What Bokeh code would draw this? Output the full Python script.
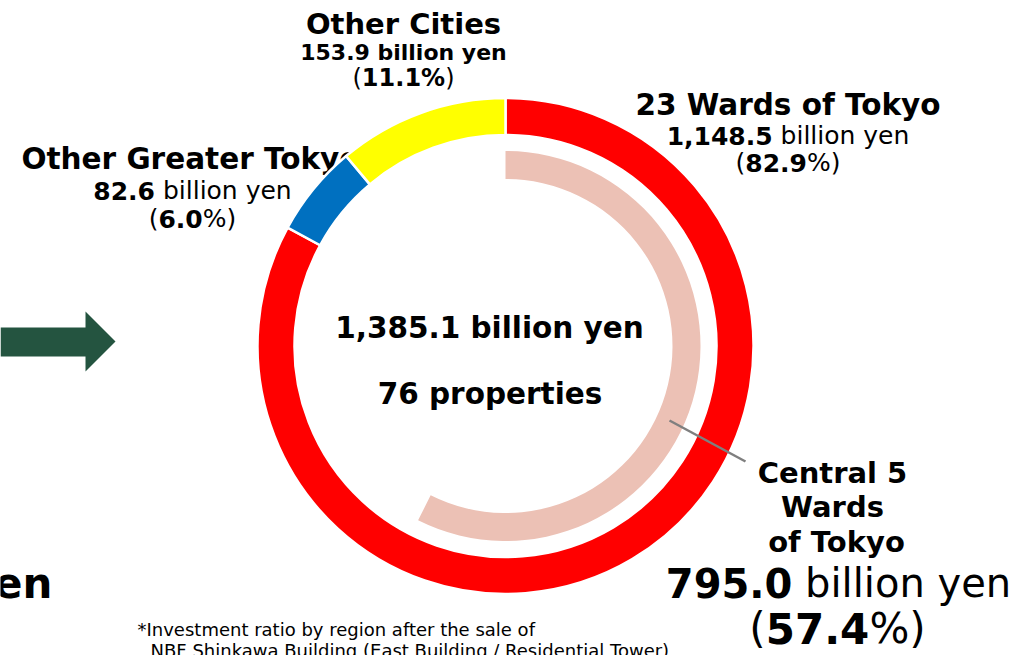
import math
from bokeh.plotting import figure
from bokeh.models import Range1d
from bokeh.core.properties import value
from bokeh.embed import file_html
from bokeh.resources import INLINE

# ---------------- data ----------------
regions = ["23 Wards of Tokyo", "Other Greater Tokyo", "Other Cities"]
amounts = [1148.5, 82.6, 153.9]          # billion yen
shares = [82.9, 6.0, 11.1]               # %
colors = ["#FF0000", "#0070C0", "#FFFF00"]
central5_amount = 795.0
central5_share = 57.4
total_amount = 1385.1
num_properties = 76

FONT = "DejaVu Sans"
W, H = 1021, 655

p = figure(width=W, height=H, output_backend="svg", toolbar_location=None,
           x_range=Range1d(0, W), y_range=Range1d(0, H),
           min_border=0, outline_line_color=None)
p.axis.visible = False
p.grid.visible = False
p.background_fill_color = "white"

def Y(py):
    return H - py

# approximate DejaVu advance widths (em)
NORM = {' ': .318, '(': .390, ')': .390, '%': .950, ',': .318, '.': .318,
        'b': .635, 'i': .278, 'l': .278, 'o': .612, 'n': .634, 'y': .592, 'e': .615}
BOLD = {' ': .348, '(': .457, ')': .457, '%': 1.002, ',': .380, '.': .380,
        'b': .716, 'i': .343, 'l': .343, 'o': .687, 'n': .712, 'y': .654, 'e': .678}

SHIFT = 0.4  # baseline correction (em)

def width(s, bold, size):
    t = BOLD if bold else NORM
    return sum(t.get(c, .696 if bold else .636) for c in s) * size

def line(cx, py, segs, size):
    total = sum(width(s, b, size) for s, b in segs)
    x = cx - total / 2
    for s, b in segs:
        lead = len(s) - len(s.lstrip(" "))
        xs = x + width(" " * lead, b, size)
        p.text(x=[xs], y=[Y(py - SHIFT * size)], text=[s.strip(" ")], text_font=value(FONT),
               text_font_size=f"{size}px", text_font_style="bold" if b else "normal",
               text_color="black", text_align="left", text_baseline="alphabetic")
        x += width(s, b, size)

def ctext(cx, py, s, size, bold=True, align="center"):
    p.text(x=[cx], y=[Y(py - SHIFT * size)], text=[s], text_font=value(FONT),
           text_font_size=f"{size}px", text_font_style="bold" if bold else "normal",
           text_color="black", text_align=align, text_baseline="alphabetic")

# label drawn below the ring (ring covers its end)
ctext(190, 170, regions[1], 29.5)

# ---------------- donut ----------------
cx, cy = 505, Y(345.5)
tot = sum(amounts)
starts, ends = [], []
cum = 0.0
for a in amounts:
    a0 = cum / tot
    cum += a
    a1 = cum / tot
    starts.append(math.pi / 2 - a1 * 2 * math.pi)
    ends.append(math.pi / 2 - a0 * 2 * math.pi)

p.annular_wedge(x=[cx] * 3, y=[cy] * 3, inner_radius=211, outer_radius=248,
                start_angle=starts, end_angle=ends, fill_color=colors,
                line_color="white", line_width=2.5)

frac = central5_amount / total_amount
p.annular_wedge(x=[cx], y=[cy], inner_radius=167, outer_radius=195,
                start_angle=[math.pi / 2 - frac * 2 * math.pi], end_angle=[math.pi / 2],
                fill_color="#ECC1B5", line_color=None)

# leader line
p.line(x=[669, 745], y=[Y(420), Y(461)], line_color="#7F7F7F", line_width=2.5)

# arrow
ax = [0, 85, 85, 115, 85, 85, 0]
ay = [Y(v) for v in [327, 327, 311, 341, 371, 356, 356]]
p.patch(x=ax, y=ay, fill_color="#245440", line_color=None)

# ---------------- labels ----------------
ctext(403, 35, regions[2], 29)
ctext(403, 61, f"{amounts[2]:.1f} billion yen", 22)
line(403, 87, [("(", False), (f"{shares[2]:.1f}%", True), (")", False)], 24)

line(192, 200, [(f"{amounts[1]:.1f}", True), (" billion yen", False)], 25)
line(192, 228, [("(", False), (f"{shares[1]:.1f}", True), ("%)", False)], 25)

ctext(787.5, 116, regions[0], 29.5)
line(787.5, 145, [(f"{amounts[0]:,.1f}", True), (" billion yen", False)], 25)
line(787.5, 172, [("(", False), (f"{shares[0]:.1f}", True), ("%)", False)], 25)

ctext(489, 339, f"{total_amount:,.1f} billion yen", 29.5)
ctext(489.5, 405, f"{num_properties} properties", 29.5)

ctext(832, 484, "Central 5", 29)
ctext(832, 518, "Wards", 29)
ctext(836, 553, "of Tokyo", 29)
line(838, 598, [(f"{central5_amount:.1f}", True), (" billion yen", False)], 40)
line(837, 645, [("(", False), (f"{central5_share:.1f}", True), ("%)", False)], 42)

# clipped text at left edge
ctext(52, 600, "yen", 42, align="right")

# footnote
ctext(137, 636, "*Investment ratio by region after the sale of", 18, bold=False, align="left")
ctext(150, 657, "NBF Shinkawa Building (East Building / Residential Tower)", 18, bold=False, align="left")

open("out.html", "w").write(file_html(p, INLINE))
